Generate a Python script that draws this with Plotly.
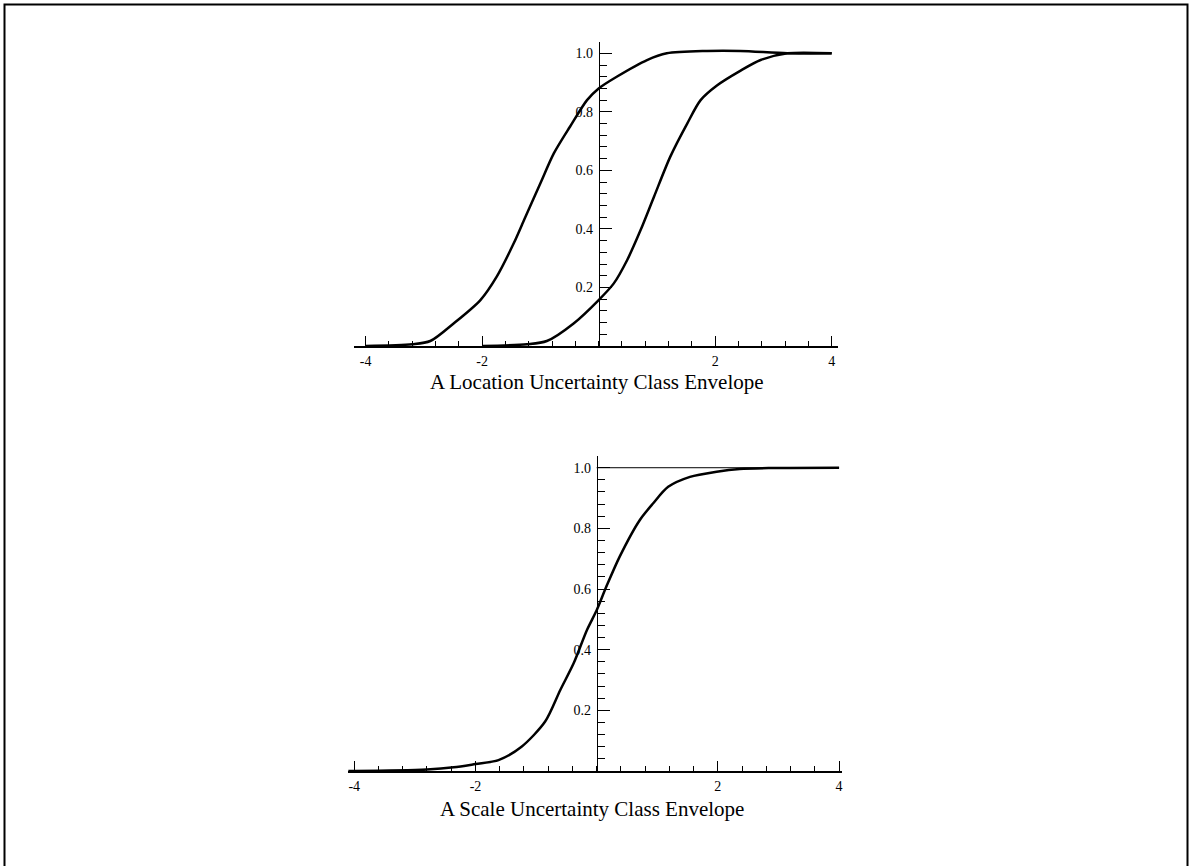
import plotly.graph_objects as go

# ---- data ----
loc_lower_x = [-4.0, -3.2, -2.89, -2.49, -2.03, -1.75, -1.46, -1.26, -1.0, -0.77, -0.49, -0.2, 0.0, 0.31, 0.83, 1.17, 1.86, 2.43, 3.24, 4.0]
loc_lower_y = [0.0, 0.006, 0.017, 0.077, 0.157, 0.237, 0.35, 0.44, 0.556, 0.658, 0.75, 0.84, 0.88, 0.92, 0.977, 1.0, 1.008, 1.008, 1.0, 1.0]

loc_upper_x = [-2.0, -1.23, -0.89, -0.43, 0.0, 0.26, 0.49, 0.72, 0.95, 1.23, 1.52, 1.75, 2.03, 2.43, 2.78, 3.24, 4.0]
loc_upper_y = [0.0, 0.006, 0.017, 0.077, 0.157, 0.214, 0.294, 0.396, 0.51, 0.647, 0.76, 0.84, 0.89, 0.94, 0.977, 1.0, 1.0]

scale_x = [-4.1, -4.0, -2.8, -2.36, -2.0, -1.62, -1.24, -0.85, -0.6, -0.38, -0.16, 0.0, 0.16, 0.38, 0.71, 0.93, 1.18, 1.54, 1.98, 2.36, 2.91, 4.0]
scale_y = [0.0, 0.0, 0.005, 0.012, 0.023, 0.036, 0.08, 0.163, 0.267, 0.355, 0.465, 0.53, 0.608, 0.707, 0.827, 0.882, 0.937, 0.97, 0.987, 0.996, 0.999, 1.0]

ref_line_x = [0.0, 4.0]
ref_line_y = [1.0, 1.0]

x_tick_vals = [-4, -2, 2, 4]
x_tick_text = ["-4", "-2", "2", "4"]
y_tick_vals = [0.2, 0.4, 0.6, 0.8, 1.0]
y_tick_text = ["0.2", "0.4", "0.6", "0.8", "1.0"]

titles = ["A Location Uncertainty Class Envelope", "A Scale Uncertainty Class Envelope"]

# ---- figure ----
W, H = 1189, 866
FONT = "Liberation Serif, Times New Roman, serif"
line_style = dict(color="black", width=2.5, shape="spline", smoothing=0.8)

fig = go.Figure()
fig.add_trace(go.Scatter(x=loc_lower_x, y=loc_lower_y, mode="lines", line=line_style,
                         xaxis="x", yaxis="y", showlegend=False, hoverinfo="skip"))
fig.add_trace(go.Scatter(x=loc_upper_x, y=loc_upper_y, mode="lines", line=line_style,
                         xaxis="x", yaxis="y", showlegend=False, hoverinfo="skip"))
fig.add_trace(go.Scatter(x=ref_line_x, y=ref_line_y, mode="lines",
                         line=dict(color="black", width=1),
                         xaxis="x2", yaxis="y2", showlegend=False, hoverinfo="skip"))
fig.add_trace(go.Scatter(x=scale_x, y=scale_y, mode="lines", line=line_style,
                         xaxis="x2", yaxis="y2", showlegend=False, hoverinfo="skip"))

TICKFONT = dict(family=FONT, size=14, color="#000000")


def xaxis_cfg(rng, domain, anchor):
    return dict(range=rng, domain=domain, anchor=anchor, showgrid=False, zeroline=False,
                showline=True, linecolor="black", linewidth=1.5,
                tickmode="array", tickvals=x_tick_vals, ticktext=x_tick_text,
                ticks="inside", ticklen=10, tickwidth=1, tickcolor="black",
                ticklabelstandoff=2,
                tickfont=TICKFONT,
                minor=dict(tickmode="linear", tick0=0, dtick=0.4, ticks="inside",
                           ticklen=5, tickwidth=1, tickcolor="black", showgrid=False),
                fixedrange=True)


def yaxis_cfg(rng, domain, pos):
    return dict(range=rng, domain=domain, anchor="free", position=pos, side="left",
                showgrid=False, zeroline=False,
                showline=True, linecolor="black", linewidth=1.5,
                tickmode="array", tickvals=y_tick_vals, ticktext=y_tick_text,
                ticks="inside", ticklen=12, tickwidth=1, tickcolor="black",
                ticklabelstandoff=3,
                tickfont=TICKFONT,
                minor=dict(tickmode="linear", tick0=0, dtick=0.04, ticks="inside",
                           ticklen=7, tickwidth=1, tickcolor="black", showgrid=False),
                fixedrange=True)


fig.update_layout(
    template="none",
    width=W, height=H,
    margin=dict(l=0, r=0, t=0, b=0),
    paper_bgcolor="white", plot_bgcolor="white",
    font=dict(family=FONT, color="#000000"),
    xaxis=xaxis_cfg([-4.2, 4.1], [354 / W, 837.5 / W], "y"),
    yaxis=yaxis_cfg([0, 1.04], [(H - 346) / H, (H - 41.6) / H], 598.7 / W),
    xaxis2=xaxis_cfg([-4.1, 4.05], [348.2 / W, 842.1 / W], "y2"),
    yaxis2=yaxis_cfg([0, 1.04], [(H - 771) / H, (H - 455.6) / H], 596.7 / W),
    annotations=[
        dict(text=titles[0], x=597 / W, y=(H - 382.5) / H, xref="paper", yref="paper",
             showarrow=False, xanchor="center", yanchor="middle",
             font=dict(family=FONT, size=21, color="#000000")),
        dict(text=titles[1], x=591.5 / W, y=(H - 809) / H, xref="paper", yref="paper",
             showarrow=False, xanchor="center", yanchor="middle",
             font=dict(family=FONT, size=21, color="#000000")),
    ],
    shapes=[
        dict(type="rect", xref="paper", yref="paper",
             x0=4.5 / W, x1=1187.5 / W, y0=-0.05, y1=(H - 4.5) / H,
             line=dict(color="black", width=2), fillcolor="rgba(0,0,0,0)"),
    ],
)

fig.write_html("out.html",
               config={"displayModeBar": False, "staticPlot": True},
               post_script="document.body.style.margin='0';document.body.style.overflow='hidden';")
